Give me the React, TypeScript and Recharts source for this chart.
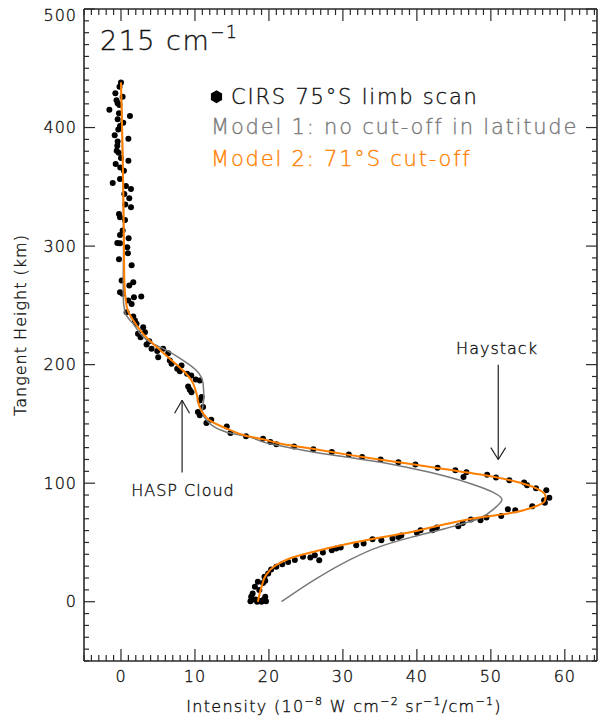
import { ComposedChart, Scatter, XAxis, YAxis, ReferenceLine } from "recharts"

// intensity (1e-8 W cm-2 sr-1 / cm-1) vs tangent height (km), 215 cm-1
const xDomain: [number, number] = [-5, 64.35]
const yDomain: [number, number] = [-50, 500]

// CIRS 75°S limb scan, [intensity, height]
const cirsScan: [number, number][] = [
  [0.0, 438], [-0.2, 434.4], [-0.76, 429], [0.22, 426], [-0.6, 423], [-0.45, 420.6], [-0.22, 419],
  [-1.57, 415], [-0.27, 412], [1.21, 409.7], [-0.45, 406.9], [0.31, 404], [-0.13, 401.3], [-0.36, 398.4],
  [-0.85, 393.4], [1.0, 390.6], [-0.45, 388.3], [-0.5, 384.7], [-0.58, 380.5], [-0.31, 378.8], [0, 374.3],
  [1.0, 372], [-0.72, 369.2], [-0.1, 366.4], [0.4, 363.6], [-0.13, 356.6], [-1.12, 353.2], [0.67, 350.7],
  [1.35, 348.2], [0.45, 344], [1.12, 340.3], [0.58, 335], [1.35, 332.7], [-0.27, 327.1], [-0.13, 324.3],
  [0.54, 322], [0.22, 313.1], [-0.13, 309.4], [1.03, 306.6], [-0.5, 302.7], [-0.13, 302.4], [0.85, 299],
  [0.94, 294], [-0.27, 289], [1.44, 283.9],
  [0.09, 270.9], [1.66, 269.5], [1.12, 266.7], [-0.13, 261.1], [0.22, 259.7], [2.74, 257.4], [1.75, 256.9],
  [0.99, 254], [1.44, 251.2], [0.76, 244.2], [1.66, 240.6], [1.89, 237.2], [2.1, 234.4], [3.0, 231.6],
  [3.24, 227.4], [2.3, 226], [2.65, 223.2], [3.82, 219.8], [3.46, 217], [4.13, 213.3], [5.7, 213.3],
  [4.9, 211.4], [6.38, 209.7], [5.03, 206.3], [6.6, 203.5], [6.83, 200.7], [8.18, 199.3], [7.6, 196.5],
  [7.96, 194.5], [8.94, 192.3], [9.5, 190.9], [10.1, 187.5], [10.65, 186.7], [9.08, 181.6], [9.3, 178.8],
  [9.53, 176.8], [10.9, 172.6], [10.65, 169.8], [11.1, 164.2], [10.4, 160], [10.65, 157.2], [12.2, 153.5],
  [11.55, 150.7], [14.3, 147.9], [14.8, 142.3], [16.9, 139.5], [19.2, 137.5], [20.2, 134.7], [21.0, 132.8],
  [23.4, 131],
  [26.0, 128.6], [28.5, 126.3], [30.8, 124.1], [32.6, 122.1], [35.1, 119.9], [37.5, 117.6], [39.8, 115.7],
  [42.8, 113.1], [45.2, 110.9], [46.7, 109.2], [46.3, 105.3], [49.5, 107.2], [50.7, 104.7], [52.5, 102.5],
  [54.5, 100.5], [54.9, 98.2], [56.1, 95.7], [57.5, 94], [57.9, 87.8], [57.2, 85.6], [57.3, 83.4],
  [55.6, 80.5], [53.3, 77.2], [52.3, 78], [51.4, 72.4], [49.4, 71], [48.6, 68.8], [47.3, 69.3],
  [46.2, 66.5], [45.6, 63.7], [42.7, 62.6], [42.1, 60.3], [40.5, 60.3], [40.0, 58.1], [37.9, 55.8],
  [37.5, 54.7], [36.7, 53.3], [35.2, 51.9], [34.0, 52.7], [32.8, 49.1], [31.8, 47.7], [29.7, 45.7],
  [29.1, 44.9], [28.5, 43.5], [27.3, 41.5], [26.2, 39.3], [26.8, 35], [25.6, 37.3], [24.6, 37.9],
  [23.5, 35.1], [22.6, 33.6], [21.8, 31.7], [21.0, 29.4], [20.3, 27.2], [19.9, 23.8], [19.4, 21],
  [19.5, 17.6], [19.2, 15.9], [18.5, 16.8], [18.1, 12.6], [18.7, 9.8], [17.8, 7], [17.6, 4.2],
  [18.2, 1.9], [18.7, 0.8], [19.3, 1.9], [19.5, 4.2], [17.8, 1.9], [18.4, 0], [19.0, 0], [19.6, 0.5],
  [17.5, 0.5],
]

// Model 1: no cut-off in latitude
const model1: [number, number][] = [
  [0.0, 438], [0.15, 400], [0.3, 350], [0.35, 300], [0.3, 270], [0.3, 258], [0.54, 244], [1.66, 234.4],
  [3.9, 219], [6.2, 212], [8.4, 203.5], [10.2, 195], [11.1, 184], [11.2, 172.6], [11.0, 161.4],
  [11.6, 153], [14.3, 143], [17.4, 139], [19.6, 134], [21.5, 131.5], [25.9, 126.3], [30.4, 122],
  [34.9, 117.9], [39.4, 112.3], [43.9, 105.8], [47.5, 99.1], [50.2, 92.6], [51.5, 86.2], [50.6, 79.4],
  [48.4, 70.2], [43.9, 61.8], [39.4, 54.7], [34.9, 46.3], [30.4, 33.6], [26.8, 21], [21.7, 0],
]

// Model 2: 71°S cut-off
const model2: [number, number][] = [
  [0.0, 438], [0.15, 400], [0.3, 350], [0.4, 300], [0.45, 272], [0.6, 257], [0.9, 246], [1.7, 237],
  [3.0, 226], [4.8, 215], [6.6, 205], [8.4, 195], [9.5, 187], [10.2, 176], [10.65, 164], [11.1, 159],
  [12.0, 153], [14.7, 145], [16.9, 140], [19.2, 137], [21.5, 133.5], [25.9, 129], [30.4, 124.3],
  [34.9, 120], [39.4, 116], [43.9, 111.8], [48.4, 107.5], [52.9, 102], [55.1, 98.2], [56.5, 94.5],
  [57.4, 89], [57.3, 85], [55.6, 79.5], [52.9, 75], [48.4, 71], [43.9, 65.5], [39.4, 59], [34.9, 54],
  [30.4, 48.5], [25.9, 42], [22.8, 36.5], [21.0, 31], [19.6, 22.5], [19.0, 12.5], [18.5, 0],
]

const xLabelTicks = [0, 10, 20, 30, 40, 50, 60]
const yLabelTicks = [0, 100, 200, 300, 400, 500]

const range = (a: number, b: number, step: number) => {
  const out: number[] = []
  for (let v = a; v <= b; v += step) out.push(v)
  return out
}
const xTicks = range(-5, 64, 1)
const yTicks = range(-50, 500, 10)

const toRows = (pts: [number, number][]) => pts.map(([x, h]) => ({ x, h }))

const AXIS = "#2a2a2a"
const ORANGE = "#ff7f00"
const GRAY = "#787878"
const FONT = "'DejaVu Sans', sans-serif"

const ink = (color: string) => ({
  fontFamily: FONT,
  fontWeight: 200,
  fill: color,
  stroke: color,
  strokeWidth: 0.35,
})

function BottomTick({ x, y, payload }: any) {
  const major = xLabelTicks.includes(payload.value)
  return (
    <g>
      <line x1={x} x2={x} y1={y} y2={y - (major ? 12 : 6)} stroke={AXIS} strokeWidth={1.2} />
      {major && (
        <text x={x} y={y + 21} textAnchor="middle" fontSize={16} letterSpacing={1} {...ink("#111")}>
          {payload.value}
        </text>
      )}
    </g>
  )
}

function TopTick({ x, y, payload }: any) {
  const major = xLabelTicks.includes(payload.value)
  return <line x1={x} x2={x} y1={y} y2={y + (major ? 12 : 6)} stroke={AXIS} strokeWidth={1.2} />
}

function LeftTick({ x, y, payload }: any) {
  const major = yLabelTicks.includes(payload.value)
  // the top label sits a little below its tick, as in the original
  const ly = Math.max(y + 5.5, 20.5)
  return (
    <g>
      <line x1={x} x2={x + (major ? 11 : 5)} y1={y} y2={y} stroke={AXIS} strokeWidth={1.2} />
      {major && (
        <text x={x - 7} y={ly} textAnchor="end" fontSize={16} letterSpacing={1} {...ink("#111")}>
          {payload.value}
        </text>
      )}
    </g>
  )
}

function RightTick({ x, y, payload }: any) {
  const major = yLabelTicks.includes(payload.value)
  return <line x1={x} x2={x - (major ? 11 : 5)} y1={y} y2={y} stroke={AXIS} strokeWidth={1.2} />
}

const Dot = (p: any) => <circle cx={p.cx} cy={p.cy} r={3} fill="#000" />
const NoDot = () => <g />

export default function App() {
  const axisLine = { stroke: AXIS, strokeWidth: 1.6 }
  const arrow = { stroke: "#222", strokeWidth: 1.2, xAxisId: "b", yAxisId: "l" } as const
  return (
    <div style={{ position: "relative", width: 606, height: 720, margin: "-8px 0 0 -8px" }}>
      <ComposedChart width={606} height={720} margin={{ top: 8, right: 8, bottom: 0, left: 0 }}>
        <XAxis
          xAxisId="b"
          type="number"
          dataKey="x"
          domain={xDomain}
          allowDataOverflow
          ticks={xTicks}
          interval={0}
          height={59}
          tickSize={0}
          tickMargin={0}
          tickLine={false}
          axisLine={axisLine}
          tick={(p: any) => <BottomTick {...p} />}
        />
        <XAxis
          xAxisId="t"
          orientation="top"
          type="number"
          dataKey="x"
          domain={xDomain}
          allowDataOverflow
          ticks={xTicks}
          interval={0}
          height={1}
          tickSize={0}
          tickMargin={0}
          tickLine={false}
          axisLine={axisLine}
          tick={(p: any) => <TopTick {...p} />}
        />
        <YAxis
          yAxisId="l"
          type="number"
          dataKey="h"
          domain={yDomain}
          allowDataOverflow
          ticks={yTicks}
          interval={0}
          width={84}
          tickSize={0}
          tickMargin={0}
          tickLine={false}
          axisLine={axisLine}
          tick={(p: any) => <LeftTick {...p} />}
        />
        <YAxis
          yAxisId="r"
          orientation="right"
          type="number"
          dataKey="h"
          domain={yDomain}
          allowDataOverflow
          ticks={yTicks}
          interval={0}
          width={1}
          tickSize={0}
          tickMargin={0}
          tickLine={false}
          axisLine={axisLine}
          tick={(p: any) => <RightTick {...p} />}
        />

        {/* invisible series that ties the top and right frame axes to the data */}
        <Scatter xAxisId="t" yAxisId="r" data={toRows(model2)} shape={NoDot} isAnimationActive={false} />

        <Scatter xAxisId="b" yAxisId="l" data={toRows(cirsScan)} shape={Dot} isAnimationActive={false} />
        <Scatter
          xAxisId="b"
          yAxisId="l"
          data={toRows(model1)}
          shape={NoDot}
          line={{ stroke: GRAY, strokeWidth: 1.5 }}
          lineJointType="monotoneY"
          isAnimationActive={false}
        />
        <Scatter
          xAxisId="b"
          yAxisId="l"
          data={toRows(model2)}
          shape={NoDot}
          line={{ stroke: ORANGE, strokeWidth: 2 }}
          lineJointType="monotoneY"
          isAnimationActive={false}
        />

        {/* Haystack arrow */}
        <ReferenceLine {...arrow} segment={[{ x: 51, y: 200 }, { x: 51, y: 120 }]} />
        <ReferenceLine {...arrow} segment={[{ x: 50, y: 130 }, { x: 51, y: 120 }]} />
        <ReferenceLine {...arrow} segment={[{ x: 52, y: 130 }, { x: 51, y: 120 }]} />
        {/* HASP cloud arrow */}
        <ReferenceLine {...arrow} segment={[{ x: 8.26, y: 109 }, { x: 8.26, y: 170 }]} />
        <ReferenceLine {...arrow} segment={[{ x: 7.25, y: 159 }, { x: 8.26, y: 170 }]} />
        <ReferenceLine {...arrow} segment={[{ x: 9.27, y: 159 }, { x: 8.26, y: 170 }]} />
      </ComposedChart>

      <svg width={606} height={720} style={{ position: "absolute", left: 0, top: 0, pointerEvents: "none" }}>
        <text x={100} y={50} fontSize={27} letterSpacing={1.5} {...ink("#111")}>
          215 cm<tspan dy={-12} fontSize={17}>−1</tspan>
        </text>

        <polygon points="216.5,90.2 222.1,93.45 222.1,99.95 216.5,103.2 210.9,99.95 210.9,93.45" fill="#000" />
        <text x={231} y={104} fontSize={21} letterSpacing={1.8} {...ink("#111")}>
          CIRS 75°S limb scan
        </text>
        <text x={211} y={134} fontSize={21} letterSpacing={1.8} {...ink(GRAY)}>
          Model 1: no cut-off in latitude
        </text>
        <text x={211} y={166} fontSize={21} letterSpacing={1.8} {...ink(ORANGE)}>
          Model 2: 71°S cut-off
        </text>

        <text x={497} y={354} textAnchor="middle" fontSize={16} letterSpacing={1} {...ink("#111")}>
          Haystack
        </text>
        <text x={183} y={496} textAnchor="middle" fontSize={16} letterSpacing={1} {...ink("#111")}>
          HASP Cloud
        </text>

        <text x={344} y={712} textAnchor="middle" fontSize={16} letterSpacing={1.3} {...ink("#111")}>
          Intensity (10<tspan dy={-7} fontSize={11}>−8</tspan>
          <tspan dy={7}> W cm</tspan>
          <tspan dy={-7} fontSize={11}>−2</tspan>
          <tspan dy={7}> sr</tspan>
          <tspan dy={-7} fontSize={11}>−1</tspan>
          <tspan dy={7}>/cm</tspan>
          <tspan dy={-7} fontSize={11}>−1</tspan>
          <tspan dy={7}>)</tspan>
        </text>
        <text
          transform="translate(26,325) rotate(-90)"
          textAnchor="middle"
          fontSize={16}
          letterSpacing={1}
          {...ink("#111")}
        >
          Tangent Height (km)
        </text>
      </svg>
    </div>
  )
}
